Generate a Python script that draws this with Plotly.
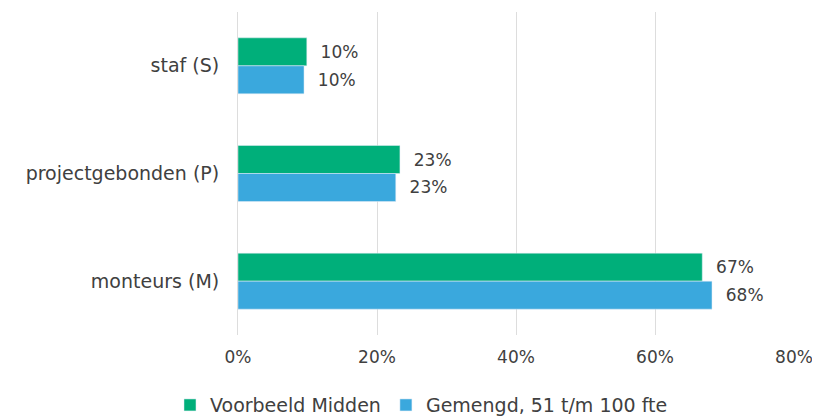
import plotly.graph_objects as go

categorieen = ['staf (S)', 'projectgebonden (P)', 'monteurs (M)']
voorbeeld_midden = [0.099, 0.233, 0.668]
gemengd = [0.095, 0.227, 0.682]

GROEN = '#00AF7A'
BLAUW = '#3AA8DD'
TEKST = '#404040'
FONT = 'DejaVu Sans, Arial, sans-serif'

fig = go.Figure()
fig.add_trace(go.Bar(
    y=categorieen, x=voorbeeld_midden, name='Voorbeeld Midden', orientation='h',
    marker_color=GROEN, texttemplate='  %{x:.0%}', textposition='outside',
    textfont=dict(size=17, color=TEKST, family=FONT), cliponaxis=False,
))
fig.add_trace(go.Bar(
    y=categorieen, x=gemengd, name='Gemengd, 51 t/m 100 fte', orientation='h',
    marker_color=BLAUW, texttemplate='  %{x:.0%}', textposition='outside',
    textfont=dict(size=17, color=TEKST, family=FONT), cliponaxis=False,
))

# page body has an 8px margin, so the figure is shifted by 8px
fig.update_layout(
    barmode='group',
    bargap=0.48,
    bargroupgap=0,
    width=812, height=410,
    margin=dict(l=230, r=26, t=4, b=83, autoexpand=False),
    plot_bgcolor='white',
    paper_bgcolor='white',
    font=dict(family=FONT, size=17, color=TEKST),
    xaxis=dict(range=[0, 0.8], dtick=0.2, tickformat='.0%', showgrid=True,
               gridcolor='#DDDDDD', gridwidth=1, zeroline=False,
               ticks='', ticklabelstandoff=10, automargin=False),
    yaxis=dict(autorange='reversed', showgrid=False, ticks='',
               ticklabelstandoff=14, showline=True, linecolor='#DDDDDD',
               tickfont=dict(size=19), automargin=False),
    legend=dict(orientation='h', x=0.33, xanchor='center', y=-0.217,
                yanchor='middle', font=dict(size=19, color=TEKST, family=FONT),
                itemwidth=30, tracegroupgap=0),
    showlegend=True,
)

fig.write_html('out.html')
